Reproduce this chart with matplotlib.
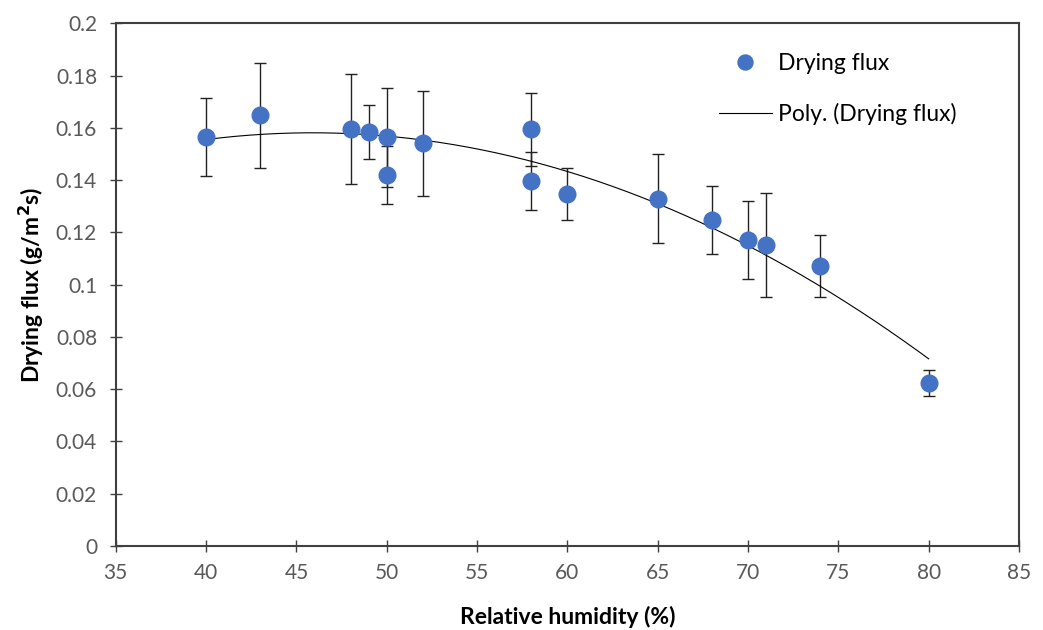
import numpy as np
import matplotlib
matplotlib.use("Agg")
import matplotlib.pyplot as plt
from matplotlib.ticker import FuncFormatter, MultipleLocator

plt.rcParams["font.family"] = ["Lato", "DejaVu Sans"]

# relative humidity (%) and drying flux (g/m2s) with error
rh = [40, 43, 48, 49, 50, 50, 52, 58, 58, 60, 65, 68, 70, 71, 74, 80]
flux = [0.1564, 0.1648, 0.1595, 0.1584, 0.1564, 0.1420, 0.1541, 0.1595,
        0.1397, 0.1348, 0.1328, 0.1246, 0.1170, 0.1152, 0.1071, 0.0624]
flux_err = [0.015, 0.020, 0.021, 0.0102, 0.019, 0.011, 0.020, 0.014,
            0.011, 0.010, 0.017, 0.013, 0.0149, 0.020, 0.0119, 0.005]

blue = "#4472C4"
grey = "#595959"

fig = plt.figure(figsize=(10.43, 6.3), dpi=100)
ax = fig.add_axes([0.111, 0.1334, 0.866, 0.8296])

ax.errorbar(rh, flux, yerr=flux_err, fmt="none", ecolor="#222222",
            elinewidth=1.0, capsize=4.5, capthick=1.0, zorder=2)
ax.plot(rh, flux, "o", color=blue, markersize=12, label="Drying flux", zorder=3)

# 2nd order polynomial trend line
coef = np.polyfit(rh, flux, 2)
xx = np.linspace(min(rh), max(rh), 200)
ax.plot(xx, np.polyval(coef, xx), color="black", lw=0.8,
        label="Poly. (Drying flux)", zorder=2.5)

ax.set_xlim(35, 85)
ax.set_ylim(0, 0.2)
ax.xaxis.set_major_locator(MultipleLocator(5))
ax.yaxis.set_major_locator(MultipleLocator(0.02))
ax.yaxis.set_major_formatter(FuncFormatter(lambda v, p: "{:g}".format(round(v, 2))))

for s in ax.spines.values():
    s.set_color("#404040")
    s.set_linewidth(1.5)
ax.tick_params(direction="inout", length=9, width=1.0, color="#404040",
               labelcolor=grey, labelsize=15)
ax.tick_params(axis="y", pad=9)
ax.tick_params(axis="x", pad=8)

ax.set_xlabel("Relative humidity (%)", fontsize=16.5, fontweight="bold", labelpad=16)
ax.set_ylabel("Drying flux (g/m$\\mathbf{^2}$s)", fontsize=16.5, fontweight="bold", labelpad=7)

ax.legend(loc="upper left", bbox_to_anchor=(0.645, 0.983), frameon=False,
          fontsize=16.5, handlelength=2.3, labelspacing=1.25, handletextpad=0.26,
          markerscale=0.9)

fig.savefig("out.png", dpi=100)
